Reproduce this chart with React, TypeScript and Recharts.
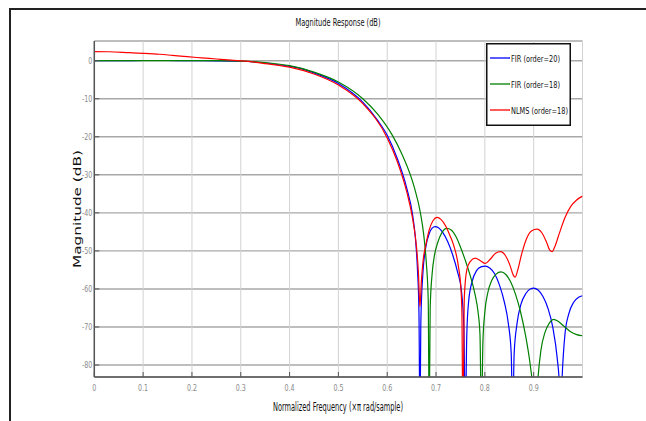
import { LineChart, Line, XAxis, YAxis, CartesianGrid, Legend } from 'recharts'

// normalized frequency ticks (x pi rad/sample) and magnitude ticks (dB)
const freqTicks = [0, 0.1, 0.2, 0.3, 0.4, 0.5, 0.6, 0.7, 0.8, 0.9]
const dbTicks = [-80, -70, -60, -50, -40, -30, -20, -10, 0]

const seriesNames = ['FIR (order=20)', 'FIR (order=18)', 'NLMS (order=18)']

// FIR (order=20); -95 marks a null below the axis
const fir20Freq = [
  0, 0.05, 0.1, 0.15, 0.2, 0.25, 0.3, 0.35, 0.4, 0.422, 0.45, 0.5, 0.55, 0.58, 0.6, 0.62, 0.64,
  0.652, 0.658, 0.662, 0.665, 0.667, 0.669, 0.673, 0.679, 0.686, 0.692, 0.698, 0.705, 0.714,
  0.724, 0.734, 0.744, 0.752, 0.757, 0.76, 0.763, 0.767, 0.774, 0.783, 0.792, 0.801, 0.81, 0.82,
  0.83, 0.84, 0.848, 0.854, 0.857, 0.86, 0.866, 0.874, 0.884, 0.893, 0.9, 0.909, 0.919, 0.929,
  0.939, 0.948, 0.953, 0.955, 0.958, 0.964, 0.972, 0.982, 0.992, 1.0,
]
const fir20Mag = [
  0, 0.02, 0.05, 0.05, 0.02, -0.03, -0.15, -0.6, -1.5, -2.0, -3.2, -6.0, -10.9, -15.6, -19.6, -25.5, -33.5,
  -40.5, -47, -55, -66, -95, -68, -56, -49, -45.5, -44, -43.6, -43.9, -45.2,
  -47.6, -51, -55.5, -60.5, -70, -95, -72, -63, -58, -55.2, -54.2, -54.0, -54.5, -56,
  -59, -63.5, -69, -77, -95, -77, -69, -64, -61.2, -60, -59.8, -60.3, -62, -65,
  -70, -78, -86, -95, -84, -72, -66.5, -63.5, -62.2, -61.8,
]

// FIR (order=18)
const fir18Freq = [
  0, 0.05, 0.1, 0.15, 0.2, 0.25, 0.3, 0.35, 0.4, 0.45, 0.5, 0.55, 0.58, 0.61, 0.63, 0.656, 0.668,
  0.675, 0.68, 0.684, 0.686, 0.688, 0.692, 0.697, 0.703, 0.712, 0.722, 0.731, 0.741, 0.75, 0.76,
  0.77, 0.78, 0.786, 0.79, 0.793, 0.796, 0.8, 0.806, 0.814, 0.823, 0.833, 0.843, 0.853, 0.863,
  0.873, 0.883, 0.893, 0.9, 0.904, 0.908, 0.915, 0.923, 0.932, 0.941, 0.95, 0.962, 0.975, 0.988, 1.0,
]
const fir18Mag = [
  0, 0, 0, 0.02, 0.02, 0, -0.1, -0.5, -1.3, -3.0, -5.6, -10, -14, -19.5, -24.5, -33.5, -40,
  -46, -53, -63, -95, -65, -56, -51, -48, -45.2, -44.1, -44.5, -46.3, -49, -52.5,
  -56.5, -61.5, -66, -72, -95, -74, -66, -61, -57.8, -56.1, -55.5, -56.2, -58.2, -61.5,
  -66, -72, -80, -88, -95, -85, -76, -71.5, -69, -68, -68.5, -69.8, -71.2, -72, -72.3,
]

// NLMS (order=18)
const nlmsFreq = [
  0, 0.03, 0.073, 0.1, 0.134, 0.16, 0.19, 0.22, 0.25, 0.28, 0.32, 0.35, 0.4, 0.45, 0.5, 0.55, 0.6,
  0.62, 0.64, 0.652, 0.66, 0.664, 0.667, 0.67, 0.674, 0.679, 0.686, 0.694, 0.702, 0.71, 0.72,
  0.728, 0.736, 0.746, 0.751, 0.753, 0.755, 0.758, 0.763, 0.77, 0.78, 0.79, 0.801, 0.811, 0.822,
  0.832, 0.842, 0.852, 0.858, 0.862, 0.867, 0.876, 0.886, 0.896, 0.907, 0.917, 0.926, 0.933,
  0.938, 0.943, 0.953, 0.964, 0.976, 0.988, 1.0,
]
const nlmsMag = [
  2.4, 2.35, 2.1, 1.95, 1.7, 1.4, 1.05, 0.75, 0.45, 0.15, -0.26, -0.75, -1.7, -3.5, -6.4, -11.3, -20.3,
  -26.3, -34.5, -41.5, -49, -56, -64.7, -58, -52, -48.5, -44.5, -42, -41.2, -41.7, -43.5,
  -45.8, -48.5, -54.2, -60, -66.4, -95, -62, -55, -52.8, -51.9, -52.5, -53.3, -52.2, -50.6,
  -50.2, -51.2, -54, -56.3, -56.9, -55.2, -50.5, -46.6, -44.7, -44.3, -45.3, -47.6, -49.8,
  -50.2, -49, -45.2, -41.3, -38.3, -36.6, -35.6,
]

const toPoints = (freq: number[], mag: number[]) => freq.map((f, i) => ({ f, db: mag[i] }))

const NARROW = "'Liberation Sans Narrow', 'DejaVu Sans Condensed', 'Liberation Sans', sans-serif"
const LEGEND_TEXT_WIDTH: Record<string, number> = {
  'FIR (order=20)': 49,
  'FIR (order=18)': 49,
  'NLMS (order=18)': 57,
}

function LeftTick({ x, y, payload }: any) {
  return (
    <g>
      <line x1={x + 2} x2={x + 7} y1={y} y2={y} stroke="#555" />
      <text transform={`translate(${x},${y + 3}) scale(0.78,1)`} textAnchor="end" fontSize={9} fill="#8a8a8a" fontFamily={NARROW}>
        {payload.value}
      </text>
    </g>
  )
}

function BottomTick({ x, y, payload }: any) {
  return (
    <g>
      <line x1={x} x2={x} y1={y} y2={y - 5} stroke="#555" />
      <text transform={`translate(${x},${y + 14}) scale(0.78,1)`} textAnchor="middle" fontSize={9} fill="#8a8a8a" fontFamily={NARROW}>
        {payload.value}
      </text>
    </g>
  )
}

function TopTick({ x, y }: any) {
  return <line x1={x} x2={x} y1={y} y2={y + 5} stroke="#666" />
}

function RightTick({ x, y }: any) {
  return <line x1={x} x2={x - 5} y1={y} y2={y} stroke="#777" />
}

function LegendBox({ payload }: any) {
  const items = [...(payload || [])].sort(
    (a: any, b: any) => seriesNames.indexOf(a.value) - seriesNames.indexOf(b.value),
  )
  return (
    <svg width={85} height={83} style={{ display: 'block', overflow: 'visible' }}>
      <rect x={0.75} y={0.75} width={83.5} height={81.5} fill="#fff" stroke="#111" strokeWidth={1.5} />
      {items.map((entry: any, i: number) => {
        const cy = 15 + i * 26
        return (
          <g key={entry.value}>
            <line x1={4} x2={24} y1={cy} y2={cy} stroke={entry.color} strokeWidth={1.3} />
            <text
              x={25}
              y={cy + 3.5}
              fontSize={9.5}
              fontFamily={NARROW}
              fill="#111"
              textLength={LEGEND_TEXT_WIDTH[entry.value]}
              lengthAdjust="spacingAndGlyphs"
            >
              {entry.value}
            </text>
          </g>
        )
      })}
    </svg>
  )
}

export default function App() {
  return (
    <div style={{ position: 'relative', width: 646, height: 421, background: '#fff', overflow: 'hidden' }}>
      <style>{`html, body { margin: 0; overflow: hidden; }`}</style>
      <div
        style={{
          position: 'absolute',
          left: 9,
          top: 8,
          width: 637,
          height: 413,
          borderTop: '2px solid #222',
          borderLeft: '2px solid #222',
          boxSizing: 'border-box',
        }}
      />
      <div style={{ position: 'absolute', left: 0, top: 0 }}>
        <LineChart width={646} height={421} margin={{ top: 41, right: 63.5, bottom: 14, left: 8 }}>
          <CartesianGrid vertical={false} stroke="#a8a8a8" strokeWidth={1.4} />
          <CartesianGrid horizontal={false} stroke="#d2d2d2" />
          <XAxis
            type="number"
            dataKey="f"
            domain={[0, 1]}
            ticks={freqTicks}
            allowDataOverflow
            height={30}
            tickSize={0}
            tickMargin={0}
            tickLine={false}
            axisLine={{ stroke: '#555', strokeWidth: 1.5 }}
            tick={<BottomTick />}
          />
          <XAxis
            xAxisId="t"
            orientation="top"
            type="number"
            domain={[0, 1]}
            ticks={freqTicks}
            height={0}
            tickSize={0}
            tickMargin={0}
            tickLine={false}
            axisLine={{ stroke: '#555', strokeWidth: 1.5 }}
            tick={<TopTick />}
          />
          <YAxis
            type="number"
            domain={[-83.15, 5.18]}
            ticks={dbTicks}
            allowDataOverflow
            width={86.3}
            tickSize={0}
            tickMargin={2}
            tickLine={false}
            axisLine={{ stroke: '#555', strokeWidth: 1.5 }}
            tick={<LeftTick />}
          />
          <YAxis
            yAxisId="r"
            orientation="right"
            type="number"
            domain={[-83.15, 5.18]}
            ticks={dbTicks}
            width={0}
            tickSize={0}
            tickMargin={0}
            tickLine={false}
            axisLine={{ stroke: '#888', strokeWidth: 1.2 }}
            tick={<RightTick />}
          />
          <Line
            data={toPoints(fir20Freq, fir20Mag)}
            dataKey="db"
            name={seriesNames[0]}
            type="monotone"
            stroke="#0000ff"
            strokeWidth={1.2}
            dot={false}
            isAnimationActive={false}
          />
          <Line
            data={toPoints(fir18Freq, fir18Mag)}
            dataKey="db"
            name={seriesNames[1]}
            type="monotone"
            stroke="#008000"
            strokeWidth={1.2}
            dot={false}
            isAnimationActive={false}
          />
          <Line
            data={toPoints(nlmsFreq, nlmsMag)}
            dataKey="db"
            name={seriesNames[2]}
            type="monotone"
            stroke="#ff0000"
            strokeWidth={1.2}
            dot={false}
            isAnimationActive={false}
          />
          <Legend
            layout="vertical"
            align="center"
            verticalAlign="middle"
            content={<LegendBox />}
            wrapperStyle={{ left: 486, top: 43, width: 85, height: 83 }}
          />
        </LineChart>
      </div>
      <svg width={646} height={421} style={{ position: 'absolute', left: 0, top: 0, pointerEvents: 'none' }}>
        <text x={338} y={26} textAnchor="middle" fontSize={11} fontFamily={NARROW} fill="#111" textLength={85} lengthAdjust="spacingAndGlyphs">
          Magnitude Response (dB)
        </text>
        <text
          x={81}
          y={209}
          transform="rotate(-90, 81, 209)"
          textAnchor="middle"
          fontSize={11}
          fontFamily="'DejaVu Sans', sans-serif"
          fill="#111"
          textLength={118}
          lengthAdjust="spacingAndGlyphs"
        >
          Magnitude (dB)
        </text>
        <text x={338} y={411} textAnchor="middle" fontSize={12} fontFamily={NARROW} fill="#111" textLength={130} lengthAdjust="spacingAndGlyphs">
          Normalized Frequency (×π rad/sample)
        </text>
      </svg>
    </div>
  )
}
